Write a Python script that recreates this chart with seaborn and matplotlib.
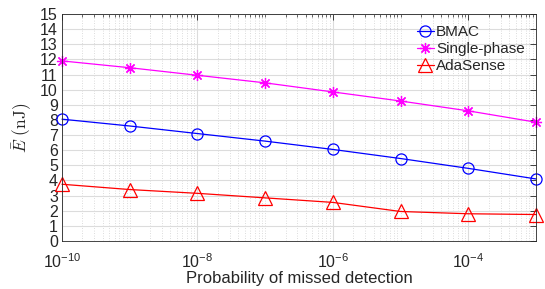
import numpy as np
import pandas as pd
import matplotlib
matplotlib.use("Agg")
import matplotlib.pyplot as plt
import matplotlib.ticker as mticker
import seaborn as sns

# Data
prob = [1e-10, 1e-9, 1e-8, 1e-7, 1e-6, 1e-5, 1e-4, 1e-3]
bmac = [8.05, 7.6, 7.1, 6.6, 6.05, 5.45, 4.8, 4.1]
single_phase = [11.9, 11.45, 10.95, 10.45, 9.85, 9.25, 8.6, 7.85]
adasense = [3.75, 3.4, 3.15, 2.85, 2.55, 1.95, 1.8, 1.75]
series_names = ["BMAC", "Single-phase", "AdaSense"]
xtick_vals = [1e-10, 1e-8, 1e-6, 1e-4]
xtick_labels = [r"$\mathregular{10^{-10}}$", r"$\mathregular{10^{-8}}$",
                r"$\mathregular{10^{-6}}$", r"$\mathregular{10^{-4}}$"]
ytick_vals = list(range(0, 16))

sns.set_style("white")
plt.rcParams["font.family"] = ["Liberation Sans", "DejaVu Sans"]
plt.rcParams["mathtext.fontset"] = "cm"

df = pd.DataFrame({
    "p": prob * 3,
    "E": bmac + single_phase + adasense,
    "series": sum([[n] * len(prob) for n in series_names], []),
})

fig = plt.figure(figsize=(5.45, 2.89), dpi=100)
ax = fig.add_axes([62 / 545, 1 - 241 / 289, (536 - 62) / 545, (241 - 14) / 289])

styles = {
    "BMAC": dict(color="#0000ff", marker="o", ms=8),
    "Single-phase": dict(color="#ff00ff", marker=(8, 2, 0), ms=8),
    "AdaSense": dict(color="#ff0000", marker="^", ms=9.5),
}
for name in series_names:
    st = styles[name]
    sub = df[df["series"] == name]
    sns.lineplot(data=sub, x="p", y="E", ax=ax, color=st["color"], marker=st["marker"],
                 markersize=st["ms"], markerfacecolor="none", markeredgecolor=st["color"],
                 markeredgewidth=0.9, linewidth=0.9, label=name, clip_on=False)

ax.set_xscale("log")
ax.set_xlim(1e-10, 1e-3)
ax.set_ylim(0, 15)
ax.xaxis.set_major_locator(mticker.FixedLocator(xtick_vals))
ax.xaxis.set_major_formatter(mticker.FixedFormatter(xtick_labels))
minor = [m * 10.0 ** e for e in range(-10, -3) for m in range(1, 10)
         if not (m == 1 and e % 2 == 0)]
ax.xaxis.set_minor_locator(mticker.FixedLocator(minor))
ax.xaxis.set_minor_formatter(mticker.NullFormatter())
ax.yaxis.set_major_locator(mticker.FixedLocator(ytick_vals))

ax.grid(True, which="major", color="#dcdcdc", linewidth=0.8, linestyle="-")
ax.grid(True, which="minor", axis="x", color="#d0d0d0", linewidth=0.6, linestyle=(0, (1, 2)))
ax.set_axisbelow(True)

ax.tick_params(which="both", direction="in", top=True, right=True, colors="#262626",
               labelsize=11.5, labelcolor="#262626")
ax.tick_params(which="major", length=4, width=0.6)
ax.tick_params(which="minor", length=2.5, width=0.5)
ax.tick_params(axis="x", which="major", pad=8)
ax.tick_params(axis="y", which="major", pad=3)
for s in ax.spines.values():
    s.set_color("#262626")
    s.set_linewidth(0.6)

ax.set_xlabel("Probability of missed detection", fontsize=12, color="#262626", labelpad=0)
ax.set_ylabel(r"$\bar{E}\ (\mathrm{nJ})$", fontsize=12.5, color="#262626", labelpad=4)

leg = ax.legend(loc="upper left", bbox_to_anchor=(0.749, 0.95), frameon=False, fontsize=11,
                handlelength=1.1, handletextpad=0.15, labelspacing=0.18,
                borderaxespad=0, borderpad=0)
for h in leg.legend_handles:
    h.set_markerfacecolor("none")

fig.savefig("out.png", dpi=100)
